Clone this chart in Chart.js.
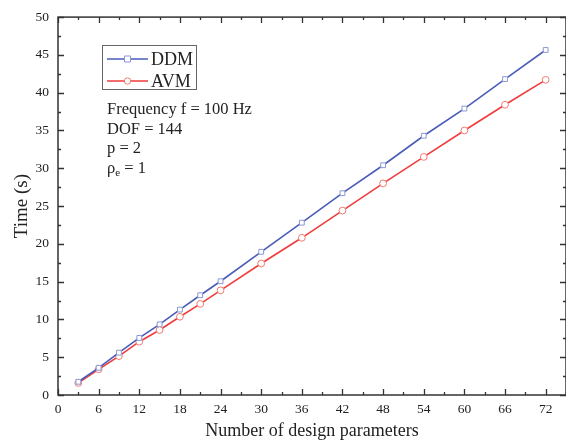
<!DOCTYPE html>
<html lang="en">
<head>
<meta charset="UTF-8">
<title>Time vs number of design parameters</title>
<style>
  html, body { margin:0; padding:0; background:#fff; overflow:hidden; }
  .wrap { position:relative; width:572px; height:443px; }
</style>
</head>
<body>
<div class="wrap"><canvas id="timeChart"></canvas></div>
<script src="https://cdn.jsdelivr.net/npm/chart.js@4"></script>
<script>
// number of design parameters
const params = [3, 6, 9, 12, 15, 18, 21, 24, 30, 36, 42, 48, 54, 60, 66, 72];
// computation time (s)
const ddmTime = [1.75, 3.6, 5.6, 7.55, 9.35, 11.3, 13.2, 15.05, 18.95, 22.8, 26.7, 30.4, 34.3, 37.9, 41.8, 45.65];
const avmTime = [1.6, 3.4, 5.15, 7.05, 8.6, 10.35, 12.05, 13.85, 17.4, 20.8, 24.4, 28.0, 31.5, 35.0, 38.4, 41.7];
const infoLines = ['Frequency f = 100 Hz', 'DOF = 144', 'p = 2'];

const SERIF = "'Liberation Serif', 'DejaVu Serif', serif";
const AXIS = '#333';

// inward ticks on all four sides + frame
const framePlugin = {
  id: 'frame',
  afterDraw(chart) {
    const { ctx, chartArea: a, scales: { x, y } } = chart;
    ctx.save();
    ctx.strokeStyle = AXIS;
    ctx.lineWidth = 1.5;
    ctx.strokeRect(a.left, a.top, a.right - a.left, a.bottom - a.top);
    ctx.lineWidth = 1.3;
    ctx.beginPath();
    x.ticks.forEach(t => {
      const px = Math.round(x.getPixelForValue(t.value)) + 0.5;
      const len = t.value % 6 === 0 ? 6 : 3;
      ctx.moveTo(px, a.bottom); ctx.lineTo(px, a.bottom - len);
      ctx.moveTo(px, a.top); ctx.lineTo(px, a.top + len);
    });
    y.ticks.forEach(t => {
      const py = Math.round(y.getPixelForValue(t.value)) + 0.5;
      const len = t.value % 5 === 0 ? 6 : 3;
      ctx.moveTo(a.left, py); ctx.lineTo(a.left + len, py);
      ctx.moveTo(a.right, py); ctx.lineTo(a.right - len, py);
    });
    ctx.stroke();
    ctx.restore();
  }
};

// boxed legend and parameter notes inside the plot
const notesPlugin = {
  id: 'notes',
  afterDraw(chart) {
    const ctx = chart.ctx;
    ctx.save();
    ctx.strokeStyle = '#666';
    ctx.lineWidth = 1;
    ctx.strokeRect(102.5, 45.5, 94, 44);
    ctx.font = '18px ' + SERIF;
    ctx.textBaseline = 'middle';
    chart.data.datasets.forEach((ds, i) => {
      const cy = 59 + i * 22;
      ctx.strokeStyle = ds.borderColor;
      ctx.lineWidth = 1.5;
      ctx.beginPath(); ctx.moveTo(107, cy); ctx.lineTo(148, cy); ctx.stroke();
      ctx.fillStyle = '#fff';
      ctx.strokeStyle = ds.pointBorderColor;
      ctx.lineWidth = 1;
      ctx.beginPath();
      if (ds.pointStyle === 'rect') ctx.rect(124.5, cy - 3, 6, 6);
      else ctx.arc(127.5, cy, 3.2, 0, Math.PI * 2);
      ctx.fill(); ctx.stroke();
      ctx.fillStyle = '#222';
      ctx.fillText(ds.label, 151, cy + 1);
    });
    ctx.font = '16.5px ' + SERIF;
    ctx.fillStyle = '#222';
    infoLines.forEach((s, i) => ctx.fillText(s, 107, 110 + i * 19.5));
    const ry = 110 + 3 * 19.5;
    ctx.fillText('\u03c1', 107, ry);
    const w = ctx.measureText('\u03c1').width;
    ctx.font = '11px ' + SERIF;
    ctx.fillText('e', 107 + w, ry + 5);
    const we = ctx.measureText('e').width;
    ctx.font = '16.5px ' + SERIF;
    ctx.fillText(' = 1', 107 + w + we, ry);
    ctx.restore();
  }
};

new Chart(document.getElementById('timeChart'), {
  type: 'line',
  data: {
    labels: params,
    datasets: [
      {
        label: 'DDM',
        data: params.map((p, i) => ({ x: p, y: ddmTime[i] })),
        borderColor: '#4a5cb8',
        borderWidth: 1.6,
        pointStyle: 'rect',
        pointRadius: 3.4,
        pointBackgroundColor: '#fff',
        pointBorderColor: '#8a97d6',
        pointBorderWidth: 1,
        tension: 0
      },
      {
        label: 'AVM',
        data: params.map((p, i) => ({ x: p, y: avmTime[i] })),
        borderColor: '#f03c3c',
        borderWidth: 1.6,
        pointStyle: 'circle',
        pointRadius: 3.4,
        pointBackgroundColor: '#fff',
        pointBorderColor: '#f07a70',
        pointBorderWidth: 1,
        tension: 0
      }
    ]
  },
  options: {
    responsive: true,
    maintainAspectRatio: false,
    animation: false,
    layout: { padding: { top: 16, right: 4, left: 0, bottom: 0 } },
    plugins: { legend: { display: false }, tooltip: { enabled: false } },
    scales: {
      x: {
        type: 'linear',
        min: 0, max: 75,
        afterFit(s) { s.height = 48; },
        border: { display: false },
        grid: { display: false, drawTicks: false },
        ticks: {
          stepSize: 3, padding: 6, maxRotation: 0, autoSkip: false,
          color: '#222', font: { family: SERIF, size: 13.5 },
          callback: v => (v % 6 === 0 && v <= 72 ? v : '')
        },
        title: {
          display: true, text: 'Number of design parameters',
          color: '#222', font: { family: SERIF, size: 18 },
          padding: { top: 0, bottom: 1 }
        }
      },
      y: {
        min: 0, max: 50,
        afterFit(s) { s.width = 58; },
        border: { display: false },
        grid: { display: false, drawTicks: false },
        ticks: {
          stepSize: 2.5, padding: 9, autoSkip: false,
          color: '#222', font: { family: SERIF, size: 13.5 },
          callback: v => (v % 5 === 0 ? v : '')
        },
        title: {
          display: true, text: 'Time (s)',
          color: '#222', font: { family: SERIF, size: 19 },
          padding: { top: 11, bottom: 0 }
        }
      }
    }
  },
  plugins: [framePlugin, notesPlugin]
});
</script>
</body>
</html>
